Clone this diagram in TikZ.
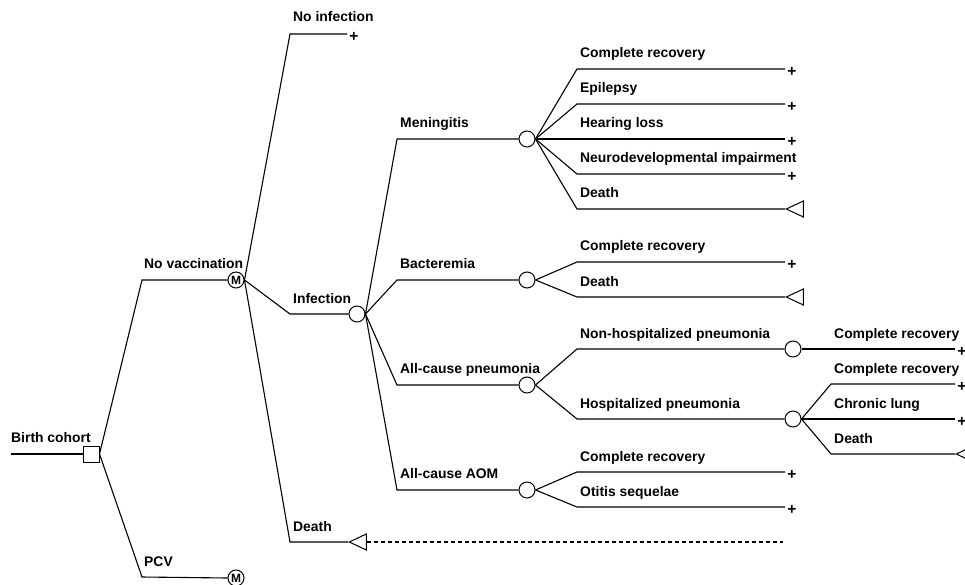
\documentclass[tikz,border=0pt]{standalone}
\usepackage{fontspec}
\setmainfont{Liberation Sans}
\usetikzlibrary{shapes.geometric}
\begin{document}
\begin{tikzpicture}[x=1pt,y=-1pt,
  br/.style={line width=1.1pt,line join=miter},
  chance/.style={circle,draw,line width=1pt,minimum size=16pt,inner sep=0pt,fill=white},
  markov/.style={chance,font=\bfseries\fontsize{12}{12}\selectfont},
  decision/.style={rectangle,draw,line width=1pt,minimum size=16pt,inner sep=0pt,fill=white},
  termtri/.style={isosceles triangle,isosceles triangle stretches,shape border rotate=180,draw,line width=1pt,minimum height=17pt,minimum width=16pt,inner sep=0pt,anchor=apex,fill=white},
  lbl/.style={anchor=base west,inner sep=0pt,font=\bfseries\fontsize{13.9}{16}\selectfont},
  plusmk/.style={anchor=center,inner sep=0pt,font=\bfseries\fontsize{15.5}{16}\selectfont},
]
\useasboundingbox (0,0) rectangle (965,585);

% ---- nodes ----
\coordinate (root) at (11,454);
\node[decision] (dec) at (91,454) {};
\node[markov] (m1) at (236,280) {M};
\node[markov] (m2) at (236,578) {M};
\node[chance] (inf) at (357,314) {};
\node[chance] (men) at (527,139) {};
\node[chance] (bac) at (527,280) {};
\node[chance] (pne) at (527,385) {};
\node[chance] (aom) at (527,490) {};
\node[chance] (nhp) at (793,349) {};
\node[chance] (hp) at (793,419) {};

% corners
\coordinate (kNV) at (142,280);
\coordinate (kPC) at (142,577);
\coordinate (kNI) at (290,34);
\coordinate (kIN) at (290,314);
\coordinate (kDE) at (290,542);
\coordinate (kME) at (397,139);
\coordinate (kBA) at (397,280);
\coordinate (kPN) at (397,385);
\coordinate (kAO) at (397,490);
\coordinate (kM1) at (577,69);
\coordinate (kM2) at (577,104);
\coordinate (kM4) at (577,174);
\coordinate (kM5) at (577,209);
\coordinate (kB1) at (577,262);
\coordinate (kB2) at (577,297);
\coordinate (kP1) at (577,349);
\coordinate (kP2) at (577,419);
\coordinate (kA1) at (577,472);
\coordinate (kA2) at (577,507);
\coordinate (kH1) at (831,384);
\coordinate (kH3) at (831,454);

% ends and terminals
\coordinate (eNI) at (347,34);   \node[plusmk] (pNI) at (354,36.5) {+};
\coordinate (eM1) at (785,69);   \node[plusmk] (pM1) at (792,71.5) {+};
\coordinate (eM2) at (785,104);  \node[plusmk] (pM2) at (792,106.5) {+};
\coordinate (eM3) at (785,139);  \node[plusmk] (pM3) at (792,141.5) {+};
\coordinate (eM4) at (785,174);  \node[plusmk] (pM4) at (792,176.5) {+};
\node[termtri] (tM5) at (785,209) {};
\coordinate (eB1) at (785,262);  \node[plusmk] (pB1) at (792,264.5) {+};
\node[termtri] (tB2) at (785,297) {};
\coordinate (eNH) at (955,349);  \node[plusmk] (pNH) at (962,351.5) {+};
\coordinate (eH1) at (955,384);  \node[plusmk] (pH1) at (962,386.5) {+};
\coordinate (eH2) at (955,419);  \node[plusmk] (pH2) at (962,421.5) {+};
\node[termtri] (tH3) at (955,454) {};
\coordinate (eA1) at (785,472);  \node[plusmk] (pA1) at (792,474.5) {+};
\coordinate (eA2) at (785,507);  \node[plusmk] (pA2) at (792,509.5) {+};
\node[termtri] (tDE) at (348,542) {};
\coordinate (eDash) at (783,542);

% ---- connectors ----
\draw[br] (root) -- (dec.west);
\draw[br] (dec.east) -- (kNV) -- (m1.west);
\draw[br] (dec.east) -- (kPC) -- (m2.west);
\draw[br] (m1.east) -- (kNI) -- (eNI);
\draw[br] (m1.east) -- (kIN) -- (inf.west);
\draw[br] (m1.east) -- (kDE) -- (tDE.apex);
\draw[br,dash pattern=on 4.5pt off 2.5pt] (tDE.east) -- (eDash);
\draw[br] (inf.east) -- (kME) -- (men.west);
\draw[br] (inf.east) -- (kBA) -- (bac.west);
\draw[br] (inf.east) -- (kPN) -- (pne.west);
\draw[br] (inf.east) -- (kAO) -- (aom.west);
\draw[br] (men.east) -- (kM1) -- (eM1);
\draw[br] (men.east) -- (kM2) -- (eM2);
\draw[br] (men.east) -- (eM3);
\draw[br] (men.east) -- (kM4) -- (eM4);
\draw[br] (men.east) -- (kM5) -- (tM5.apex);
\draw[br] (bac.east) -- (kB1) -- (eB1);
\draw[br] (bac.east) -- (kB2) -- (tB2.apex);
\draw[br] (pne.east) -- (kP1) -- (nhp.west);
\draw[br] (pne.east) -- (kP2) -- (hp.west);
\draw[br] (nhp.east) -- (eNH);
\draw[br] (hp.east) -- (kH1) -- (eH1);
\draw[br] (hp.east) -- (eH2);
\draw[br] (hp.east) -- (kH3) -- (tH3.apex);
\draw[br] (aom.east) -- (kA1) -- (eA1);
\draw[br] (aom.east) -- (kA2) -- (eA2);

% ---- labels ----
\node[lbl] (lBC) at (11,442) {Birth cohort};
\node[lbl] (lNV) at (144,268) {No vaccination};
\node[lbl] (lPC) at (144,566) {PCV};
\node[lbl] (lNI) at (293,22) {No infection};
\node[lbl] (lIN) at (293,303) {Infection};
\node[lbl] (lDE) at (293,531) {Death};
\node[lbl] (lME) at (400,128) {Meningitis};
\node[lbl] (lBA) at (400,268) {Bacteremia};
\node[lbl] (lPN) at (400,373) {All-cause pneumonia};
\node[lbl] (lAO) at (400,478) {All-cause AOM};
\node[lbl] (lM1) at (580,58) {Complete recovery};
\node[lbl] (lM2) at (580,93) {Epilepsy};
\node[lbl] (lM3) at (580,128) {Hearing loss};
\node[lbl] (lM4) at (580,163) {Neurodevelopmental impairment};
\node[lbl] (lM5) at (580,198) {Death};
\node[lbl] (lB1) at (580,251) {Complete recovery};
\node[lbl] (lB2) at (580,286) {Death};
\node[lbl] (lP1) at (580,338) {Non-hospitalized pneumonia};
\node[lbl] (lP2) at (580,408) {Hospitalized pneumonia};
\node[lbl] (lNH) at (834,338) {Complete recovery};
\node[lbl] (lH1) at (834,373) {Complete recovery};
\node[lbl] (lH2) at (834,408) {Chronic lung};
\node[lbl] (lH3) at (834,443) {Death};
\node[lbl] (lA1) at (580,461) {Complete recovery};
\node[lbl] (lA2) at (580,496) {Otitis sequelae};
\end{tikzpicture}
\end{document}
